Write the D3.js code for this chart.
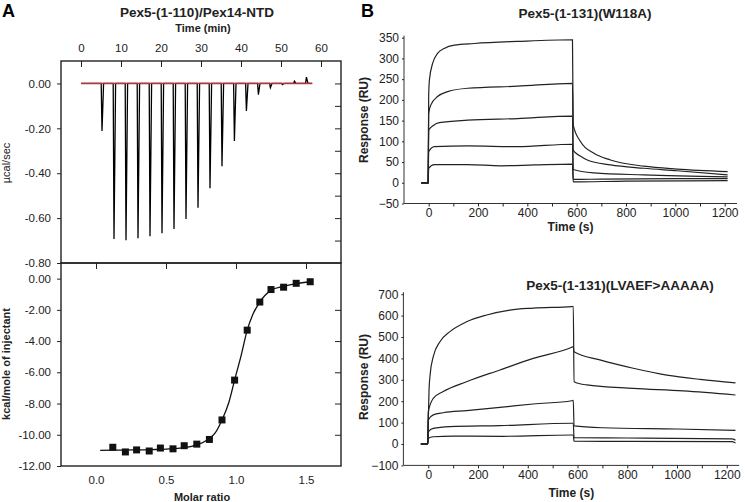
<!DOCTYPE html>
<html>
<head>
<meta charset="utf-8">
<script src="https://cdn.jsdelivr.net/npm/d3@7"></script>
<style>
  body { margin: 0; background: #fff; }
  svg { font-family: "Liberation Sans", Arial, sans-serif; }
  .axis text { fill: #222; }
  .axis line { stroke: #222; }
</style>
</head>
<body>
<script>
// ---- panel A: ITC raw heat (injection time in min, peak depth in µcal/sec)
var injTimes = [5.2, 8.2, 11.2, 14.2, 17.2, 20.2, 23.2, 26.2, 29.2, 32.2, 35.2, 38.3, 41.3, 44.3, 47.3, 50.3, 53.3, 56.3];
var injPeaks = [-0.212, -0.693, -0.699, -0.690, -0.681, -0.667, -0.649, -0.604, -0.554, -0.467, -0.369, -0.256, -0.123, -0.050, -0.019, -0.005, 0.010, 0.028];
var timeTicks = [0, 10, 20, 30, 40, 50, 60];
var powerTicks = [0, -0.2, -0.4, -0.6, -0.8];

// ---- panel A: integrated heats
var molarRatio = [0.12, 0.21, 0.29, 0.38, 0.46, 0.55, 0.63, 0.72, 0.81, 0.90, 0.99, 1.08, 1.17, 1.25, 1.34, 1.43, 1.53];
var heatValues = [-10.8, -11.1, -10.97, -11.04, -10.85, -10.9, -10.7, -10.6, -10.3, -9.05, -6.5, -3.3, -1.5, -0.7, -0.55, -0.3, -0.2];
var fitRatio = [0.03, 0.2, 0.4, 0.6, 0.72, 0.8, 0.85, 0.9, 0.95, 0.99, 1.04, 1.08, 1.12, 1.17, 1.25, 1.34, 1.43, 1.53];
var fitHeat = [-11.0, -10.98, -10.95, -10.85, -10.65, -10.3, -9.9, -9.05, -7.9, -6.5, -4.8, -3.3, -2.3, -1.5, -0.75, -0.5, -0.32, -0.2];
var molarTicks = [0, 0.5, 1.0, 1.5];
var heatTicks = [0, -2, -4, -6, -8, -10, -12];

// ---- panel B: SPR sensorgrams, [time (s), response (RU)]
var w118a = [
  [[-30,0],[-2,0],[0,208],[3,248],[16,288],[36,312],[63,324],[104,332],[185,336],[360,341],[583,345],[586,139],[616,99],[670,71],[737,55],[872,40],[1007,33],[1212,27]],
  [[-30,0],[-2,0],[0,167],[9,188],[36,208],[77,220],[158,228],[360,233],[583,240],[586,78],[616,64],[643,55],[737,43],[872,35],[1007,29],[1212,19]],
  [[-30,0],[-2,0],[0,127],[16,137],[43,145],[158,151],[360,155],[583,161],[586,32],[670,24],[872,19],[1212,14]],
  [[-30,0],[-2,0],[0,75],[23,87],[158,89],[360,87],[583,93],[586,8],[700,9],[1000,10],[1212,10]],
  [[-30,0],[-2,0],[0,35],[23,44],[158,44],[293,41],[428,43],[583,45],[586,2],[800,4],[1212,5]]
];
var lvaef = [
  [[-30,0],[-2,0],[0,100],[3,250],[8,330],[20,408],[47,478],[87,525],[154,571],[235,603],[328,626],[422,635],[577,642],[583,643],[586,291],[637,276],[824,260],[1025,248],[1235,229]],
  [[-30,0],[-2,0],[0,150],[20,213],[60,245],[154,291],[288,346],[422,400],[577,452],[583,455],[586,431],[690,393],[824,354],[959,322],[1093,302],[1235,286]],
  [[-30,0],[-2,0],[0,112],[20,136],[60,146],[154,156],[288,171],[422,187],[577,202],[583,204],[586,85],[700,76],[1000,70],[1235,64]],
  [[-30,0],[-2,0],[0,57],[20,73],[87,81],[288,86],[577,97],[583,97],[586,30],[800,28],[1220,24],[1235,18]],
  [[-30,0],[-2,0],[0,27],[20,34],[100,37],[300,36],[577,42],[583,42],[586,13],[800,12],[1220,11],[1235,5]]
];
var sprTimeTicks = [0, 100, 200, 300, 400, 500, 600, 700, 800, 900, 1000, 1100, 1200];
var w118aTicks = [-50, 0, 50, 100, 150, 200, 250, 300, 350];
var lvaefTicks = [-100, 0, 100, 200, 300, 400, 500, 600, 700];

var svg = d3.select("body").append("svg")
    .attr("width", 745)
    .attr("height", 502);

function fix2(d) { return d.toFixed(2); }

// ================= Panel A =================
var xTime = d3.scaleLinear().domain([-5, 65]).range([61, 341]);
var yPow = d3.scaleLinear().domain([-0.8, 0.1]).range([263, 61]);
var xMolar = d3.scaleLinear().domain([-0.25, 1.75]).range([61, 341]);
var yHeat = d3.scaleLinear().domain([-12, 1]).range([466, 263]);

// raw thermogram trace
var trace = [[0, 0]];
injTimes.forEach(function(t, i) {
    trace.push([t - 0.15, 0]);
    trace.push([t + 0.05, injPeaks[i]]);
    trace.push([t + 0.45, 0]);
});
trace.push([57.8, 0]);

var traceLine = d3.line()
    .x(function(d) { return xTime(d[0]); })
    .y(function(d) { return yPow(d[1]); });

svg.append("path")
    .attr("d", traceLine(trace))
    .attr("fill", "none")
    .attr("stroke", "#000")
    .attr("stroke-width", 1.3);

svg.append("path")
    .attr("d", traceLine([[0, 0], [57.8, 0]]))
    .attr("fill", "none")
    .attr("stroke", "#b8343c")
    .attr("stroke-width", 1.4);

// axes (top panel)
var gA1 = svg.append("g").attr("class", "axis");
gA1.append("g")
    .attr("transform", "translate(61,0)")
    .call(d3.axisLeft(yPow).tickValues(powerTicks).tickFormat(fix2).tickSize(4).tickPadding(6))
    .call(function(g) { g.select(".domain").remove(); })
    .selectAll("text").attr("font-family", null).attr("font-size", 11.5);
gA1.append("g")
    .attr("transform", "translate(341,0)")
    .call(d3.axisRight(yPow).tickValues([0, -0.1, -0.2, -0.3, -0.4, -0.5, -0.6, -0.7]).tickFormat("").tickSize(-6))
    .call(function(g) { g.select(".domain").remove(); });
gA1.append("g")
    .attr("transform", "translate(0,61)")
    .call(d3.axisTop(xTime).tickValues(timeTicks).tickSize(-6).tickPadding(9))
    .call(function(g) { g.select(".domain").remove(); })
    .selectAll("text").attr("font-family", null).attr("font-size", 11.5);

// axes (bottom panel)
var gA2 = svg.append("g").attr("class", "axis");
gA2.append("g")
    .attr("transform", "translate(61,0)")
    .call(d3.axisLeft(yHeat).tickValues(heatTicks).tickFormat(fix2).tickSize(4).tickPadding(6))
    .call(function(g) { g.select(".domain").remove(); })
    .selectAll("text").attr("font-family", null).attr("font-size", 11.5);
gA2.append("g")
    .attr("transform", "translate(341,0)")
    .call(d3.axisRight(yHeat).tickValues([-2, -4, -6, -8, -10]).tickFormat("").tickSize(-6))
    .call(function(g) { g.select(".domain").remove(); });
gA2.append("g")
    .attr("transform", "translate(0,263)")
    .call(d3.axisTop(xMolar).tickValues(molarTicks).tickFormat("").tickSize(-6))
    .call(function(g) { g.select(".domain").remove(); });
gA2.append("g")
    .attr("transform", "translate(0,466)")
    .call(d3.axisBottom(xMolar).tickValues(molarTicks).tickFormat(function(d) { return d.toFixed(1); }).tickSize(0).tickPadding(10))
    .call(function(g) { g.select(".domain").remove(); })
    .selectAll("text").attr("font-family", null).attr("font-size", 11.5);

// fit + points
var fitLine = d3.line()
    .x(function(d, i) { return xMolar(fitRatio[i]); })
    .y(function(d, i) { return yHeat(fitHeat[i]); })
    .curve(d3.curveMonotoneX);
svg.append("path")
    .attr("d", fitLine(fitRatio))
    .attr("fill", "none")
    .attr("stroke", "#111")
    .attr("stroke-width", 1.3);

svg.selectAll(".pt")
    .data(molarRatio)
    .enter().append("rect")
    .attr("class", "pt")
    .attr("x", function(d) { return xMolar(d) - 3.5; })
    .attr("y", function(d, i) { return yHeat(heatValues[i]) - 3.5; })
    .attr("width", 7)
    .attr("height", 7)
    .attr("fill", "#111");

// frames
[[61, 61, 280, 202], [61, 263, 280, 203]].forEach(function(r) {
    svg.append("rect")
        .attr("x", r[0]).attr("y", r[1]).attr("width", r[2]).attr("height", r[3])
        .attr("fill", "none").attr("stroke", "#222").attr("stroke-width", 1.4);
});

// texts A
svg.append("text").attr("x", 2).attr("y", 17).attr("font-size", 18).attr("font-weight", "bold").text("A");
svg.append("text").attr("x", 197).attr("y", 17).attr("text-anchor", "middle")
    .attr("font-size", 13.5).attr("font-weight", "bold").attr("fill", "#222").text("Pex5-(1-110)/Pex14-NTD");
svg.append("text").attr("x", 203).attr("y", 32).attr("text-anchor", "middle")
    .attr("font-size", 11).attr("font-weight", "bold").attr("fill", "#222").text("Time (min)");
svg.append("text").attr("transform", "translate(10,163) rotate(-90)").attr("text-anchor", "middle")
    .attr("font-size", 11).attr("fill", "#222").text("µcal/sec");
svg.append("text").attr("transform", "translate(10,364) rotate(-90)").attr("text-anchor", "middle")
    .attr("font-size", 11).attr("font-weight", "bold").attr("fill", "#222").text("kcal/mole of injectant");
svg.append("text").attr("x", 202).attr("y", 501).attr("text-anchor", "middle")
    .attr("font-size", 11).attr("font-weight", "bold").attr("fill", "#222").text("Molar ratio");

// ================= Panel B =================
function sprPanel(curves, yDomain, yTickVals, xRange, yRange, title, titleX, titleY, labelY, xLabelY) {
    var x = d3.scaleLinear().domain([-100, 1250]).range(xRange);
    var y = d3.scaleLinear().domain(yDomain).range(yRange);
    var line = d3.line()
        .x(function(d) { return x(d[0]); })
        .y(function(d) { return y(d[1]); })
        .curve(d3.curveMonotoneX);

    svg.append("g").selectAll("path")
        .data(curves)
        .enter().append("path")
        .attr("d", line)
        .attr("fill", "none")
        .attr("stroke", "#222")
        .attr("stroke-width", 1.2);

    var ga = svg.append("g").attr("class", "axis");
    ga.append("g")
        .attr("transform", "translate(" + xRange[0] + ",0)")
        .call(d3.axisLeft(y).tickValues(yTickVals).tickSize(2).tickPadding(3))
        .call(function(g) {
            g.select(".domain").attr("d", "M0," + yRange[0] + "V" + (yRange[1] - 2)).attr("stroke", "#333");
        })
        .selectAll("text").attr("font-family", null).attr("font-size", 12);
    ga.append("g")
        .attr("transform", "translate(0," + yRange[0] + ")")
        .call(d3.axisBottom(x).tickValues(sprTimeTicks).tickSize(3).tickPadding(2)
            .tickFormat(function(d) { return d % 200 === 0 ? d : ""; }))
        .call(function(g) {
            g.select(".domain").attr("d", "M" + xRange[0] + ",0H" + xRange[1]).attr("stroke", "#333");
        })
        .selectAll("text").attr("font-family", null).attr("font-size", 12);

    svg.append("text").attr("x", titleX).attr("y", titleY).attr("text-anchor", "middle")
        .attr("font-size", 13.5).attr("font-weight", "bold").attr("fill", "#222").text(title);
    svg.append("text").attr("transform", "translate(368," + labelY + ") rotate(-90)").attr("text-anchor", "middle")
        .attr("font-size", 12).attr("font-weight", "bold").attr("fill", "#222").text("Response (RU)");
    svg.append("text").attr("x", (xRange[0] + xRange[1]) / 2).attr("y", xLabelY).attr("text-anchor", "middle")
        .attr("font-size", 12).attr("font-weight", "bold").attr("fill", "#222").text("Time (s)");
}

sprPanel(w118a, [-50, 350], w118aTicks, [404, 737], [203.5, 37.7], "Pex5-(1-131)(W118A)", 585, 18, 120, 231);
sprPanel(lvaef, [-100, 700], lvaefTicks, [403.4, 739.2], [465.4, 294.2], "Pex5-(1-131)(LVAEF>AAAAA)", 620, 290, 377, 497);

svg.append("text").attr("x", 361).attr("y", 17).attr("font-size", 18).attr("font-weight", "bold").text("B");
</script>
</body>
</html>
